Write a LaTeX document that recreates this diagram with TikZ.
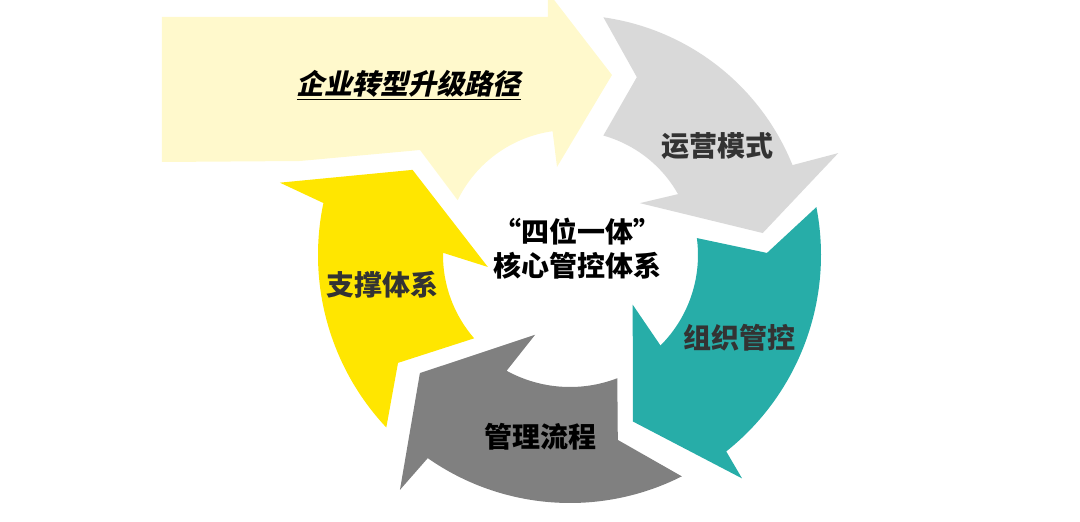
\documentclass[tikz,border=0pt]{standalone}
\usepackage{fontspec}
\newfontfamily\cjk{Noto Sans CJK SC}
\newfontfamily\cjkslant{Noto Sans CJK SC}[FakeSlant=0.22]
\definecolor{palebar}{HTML}{FFF9CC}
\definecolor{grayseg}{HTML}{D9D9D9}
\definecolor{tealseg}{HTML}{27ADA8}
\definecolor{darkseg}{HTML}{808080}
\definecolor{yellowseg}{HTML}{FFE600}
\definecolor{labeltext}{HTML}{333333}
\begin{document}
\begin{tikzpicture}[x=1pt,y=1pt,
  lbl/.style={font=\cjk\bfseries\fontsize{28}{34}\selectfont, text=labeltext}]
  \useasboundingbox (-570,-267) rectangle (510,255);
  \clip (-570,-267) rectangle (510,255);
  % origin = centre of the cycle
  \fill[palebar] (-408,238) -- (-22,238) -- (-22,263) -- (42,180) -- (-13,88)
    -- (98:125) arc[start angle=98, end angle=154, radius=125pt]
    -- (-150,105) -- (-270,94) -- (-408,93) -- cycle;
  \fill[grayseg] (82:240) arc[start angle=82, end angle=22, radius=240pt]
    -- (20.8:287) -- (6.5:194) -- (36.6:87)
    -- (29.4:124) arc[start angle=29.4, end angle=74.4, radius=124pt]
    -- (69.4:190) -- cycle;
  \fill[tealseg] (11:251) arc[start angle=11, end angle=-51.5, radius=251pt]
    -- (-52.4:282) -- (-69.3:178) -- (-38.4:80)
    -- (-45:128) arc[start angle=-45, end angle=7.6, radius=128pt]
    -- (0.6:197) -- cycle;
  \fill[darkseg] (-63.2:248) arc[start angle=-63.2, end angle=-125, radius=248pt]
    -- (-125.9:290) -- (-141.8:191) -- (-113.6:87)
    -- (-118.7:132) arc[start angle=-118.7, end angle=-69, radius=132pt]
    -- (-75.5:191) -- cycle;
  \fill[yellowseg] (-136.8:252) arc[start angle=-136.8, end angle=-191.9, radius=252pt]
    -- (-194:299) -- (-208.4:179) -- (-171.7:83)
    -- (-181:127) arc[start angle=-181, end angle=-139, radius=127pt]
    -- (-147.9:203) -- cycle;
  % labels
  \node[font=\cjkslant\bfseries\fontsize{28}{34}\selectfont] (path) at (-161,170) {\underline{企业转型升级路径}};
  \node[lbl] (model) at (148,109) {运营模式};
  \node[lbl] (org) at (170,-83) {组织管控};
  \node[lbl, text=black] (flow) at (-29,-182) {管理流程};
  \node[lbl] (support) at (-187,-30) {支撑体系};
  \node[lbl, text=black, align=center] (core) at (8,6) {“四位一体”\\核心管控体系};
\end{tikzpicture}
\end{document}
